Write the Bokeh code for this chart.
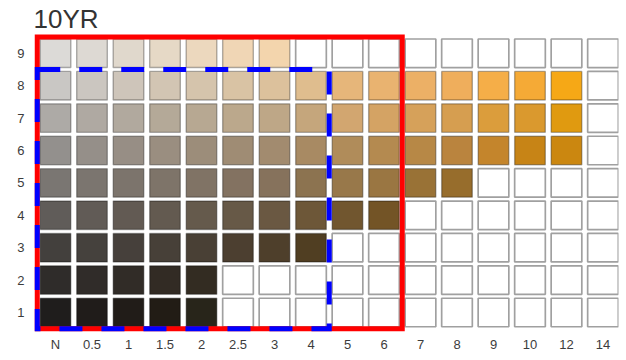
from bokeh.plotting import figure
from bokeh.models import FixedTicker, Label, Range1d
from bokeh.embed import file_html
from bokeh.resources import INLINE

title_text = "10YR"
chroma_labels = ["N", "0.5", "1", "1.5", "2", "2.5", "3", "4", "5", "6",
                 "7", "8", "9", "10", "12", "14"]
value_labels = [1, 2, 3, 4, 5, 6, 7, 8, 9]

# colours of the existing chips, per Munsell value, from chroma N upward
row_9 = ["#dcdad7", "#ddd9d3", "#e0d8cc", "#e6d9c6", "#ecd8be", "#f0d6b5", "#f3d5ad"]
row_8 = ["#c9c7c4", "#cbc6c0", "#cec5ba", "#d2c5b3", "#d5c4ac", "#d9c3a4", "#dcc19c",
         "#dfbd8e", "#e6b67a", "#e9b370", "#ecb066", "#efae5c", "#f5ae48", "#f5aa36", "#f6a816"]
row_7 = ["#adaaa6", "#afa9a2", "#b1a99e", "#b4a998", "#b7a892", "#bba88c", "#bea787",
         "#c5a67c", "#d2a670", "#d4a364", "#d6a15a", "#d69e50", "#db9d3c", "#da992e", "#e09a10"]
row_6 = ["#93908d", "#958f89", "#978e85", "#9a8e80", "#9c8d7a", "#9f8c74", "#a28b6f",
         "#a88a63", "#b08c5a", "#b48a50", "#b78846", "#ba843e", "#c4852c", "#c78416", "#cb8710"]
row_5 = ["#7a7672", "#7b756f", "#7c746c", "#7e7469", "#807365", "#837261", "#86725c",
         "#8c7350", "#98784a", "#9a7642", "#997236", "#976d2c"]
row_4 = ["#605c59", "#615b56", "#625a53", "#635a50", "#655a4c", "#675947", "#6a5842",
         "#6d5738", "#71562f", "#735426"]
row_3 = ["#43403d", "#45413d", "#46403b", "#474038", "#494035", "#4c3f30", "#4e3f2b", "#503e22"]
row_2 = ["#2f2c2a", "#302c29", "#312c27", "#322b24", "#332c22"]
row_1 = ["#1f1d1c", "#201c1a", "#211c18", "#221c15", "#28251a"]
row_colors = {1: row_1, 2: row_2, 3: row_3, 4: row_4, 5: row_5,
              6: row_6, 7: row_7, 8: row_8, 9: row_9}

# outlined regions: (last chroma, lowest value, highest value)
red_region = ("6", 1, 9)
blue_region = ("4", 1, 8)

xs, ys, fills = [], [], []
ex, ey = [], []
for v in value_labels:
    cols = row_colors[v]
    for i, c in enumerate(chroma_labels):
        if i < len(cols):
            xs.append(i); ys.append(v); fills.append(cols[i])
        else:
            ex.append(i); ey.append(v)

p = figure(width=620, height=356, output_backend="svg", toolbar_location=None,
           x_range=Range1d(-0.685, 15.425), y_range=Range1d(0.259, 10.382),
           min_border_left=30, min_border_right=2, min_border_top=8, min_border_bottom=20)
p.background_fill_color = "white"
p.border_fill_color = "white"
p.outline_line_color = None
p.xgrid.visible = False
p.ygrid.visible = False

p.rect(x=ex, y=ey, width=0.84, height=0.88, fill_color="white",
       line_color="#a0a0a0", line_width=1.7)
p.rect(x=xs, y=ys, width=0.84, height=0.88, fill_color=fills,
       line_color="#000000", line_alpha=0.3, line_width=1.4)

def box(region):
    idx = chroma_labels.index(region[0])
    return dict(left=[-0.5], right=[idx + 0.5], bottom=[region[1] - 0.5], top=[region[2] + 0.5])

p.quad(**box(red_region), fill_color=None, line_color="#ff0000", line_width=5,
       line_join="miter")
p.quad(**box(blue_region), fill_color=None, line_color="#0000ff", line_width=5,
       line_dash="23 19", line_join="miter")

p.add_layout(Label(x=-0.6, y=10.07, text=title_text, text_font="Liberation Sans",
                   text_font_size="26px", text_color="#333333", text_baseline="alphabetic"))

p.xaxis.ticker = FixedTicker(ticks=list(range(len(chroma_labels))))
p.xaxis.major_label_overrides = {i: s for i, s in enumerate(chroma_labels)}
p.yaxis.ticker = FixedTicker(ticks=value_labels)
for ax in (p.xaxis, p.yaxis):
    ax.axis_line_color = None
    ax.major_tick_line_color = None
    ax.minor_tick_line_color = None
    ax.major_tick_out = 0
    ax.major_tick_in = 0
    ax.minor_tick_out = 0
    ax.minor_tick_in = 0
    ax.major_label_text_font = "Liberation Sans"
    ax.major_label_text_font_size = "13px"
    ax.major_label_text_color = "#3c3c3c"
p.xaxis.major_label_standoff = 0
p.yaxis.major_label_standoff = 6

open("out.html", "w").write(file_html(p, INLINE))
